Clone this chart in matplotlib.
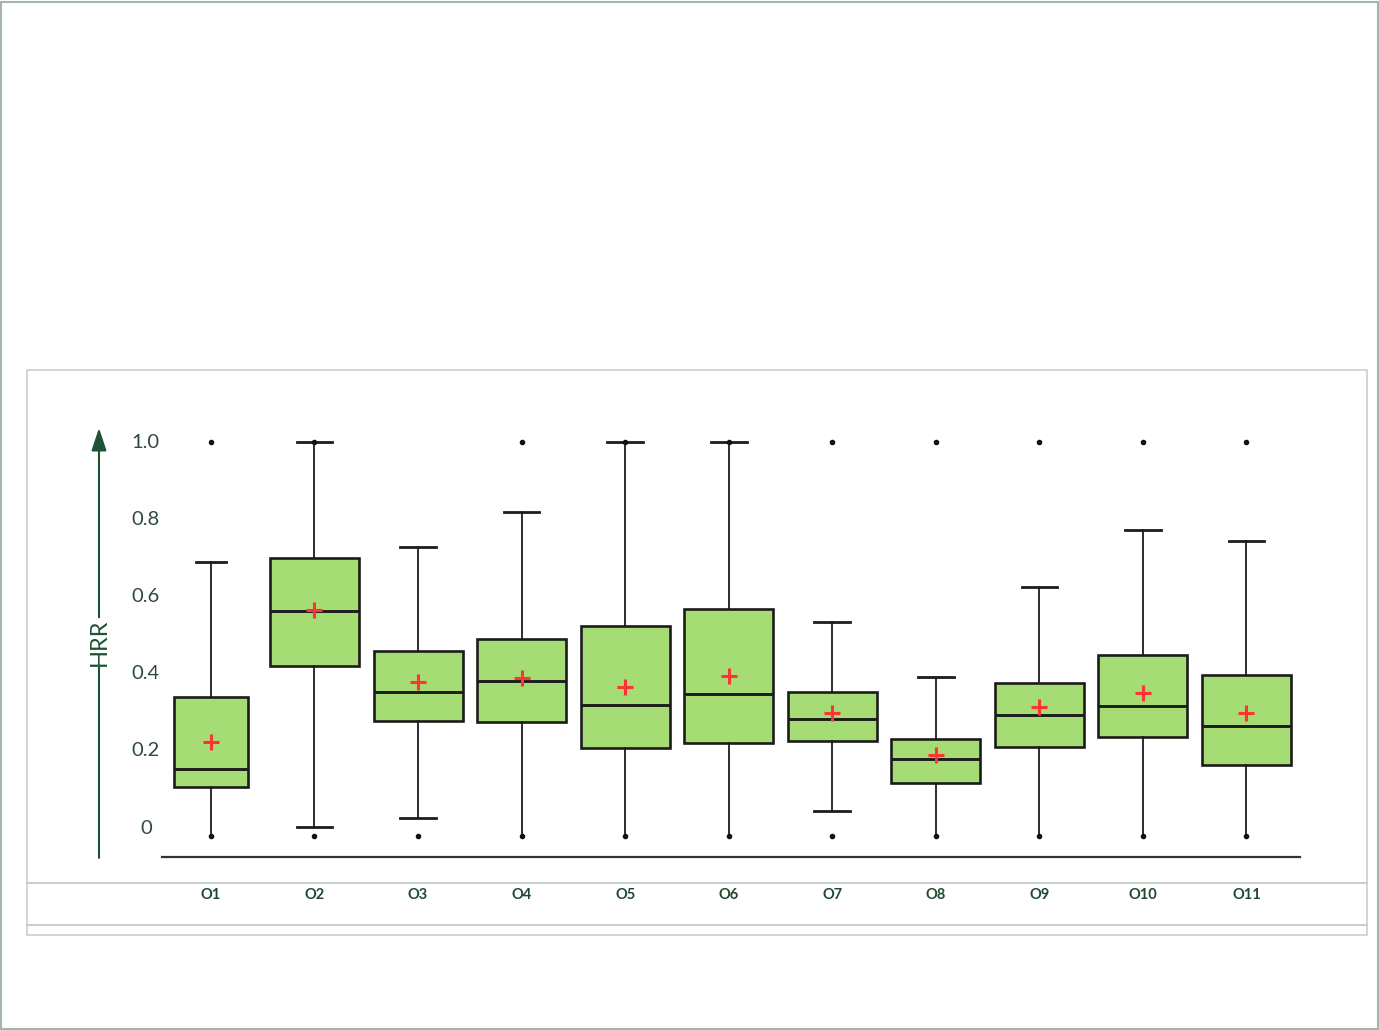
import numpy as np
import matplotlib.pyplot as plt
from matplotlib.patches import Rectangle
from matplotlib.lines import Line2D
import matplotlib.transforms as mtransforms

plt.rcParams['font.family'] = ['Lato', 'DejaVu Sans']

# data
labels = ['O1', 'O2', 'O3', 'O4', 'O5', 'O6', 'O7', 'O8', 'O9', 'O10', 'O11']
whis_hi = [0.697, 1.0, 0.734, 0.822, 1.0, 1.0, 0.544, 0.404, 0.632, 0.776, 0.748]
q3 = [0.353, 0.707, 0.469, 0.501, 0.534, 0.576, 0.366, 0.246, 0.390, 0.459, 0.409]
med = [0.171, 0.572, 0.367, 0.395, 0.334, 0.362, 0.298, 0.196, 0.307, 0.330, 0.280]
q1 = [0.125, 0.431, 0.293, 0.289, 0.224, 0.237, 0.241, 0.135, 0.228, 0.251, 0.180]
whis_lo = [0.0, 0.023, 0.047, 0.0, 0.0, 0.0, 0.065, 0.0, 0.0, 0.0, 0.0]
means = [0.240, 0.574, 0.392, 0.403, 0.378, 0.407, 0.314, 0.207, 0.329, 0.365, 0.313]
fliers = [[0, 1], [0, 1], [0], [0, 1], [0, 1], [0, 1], [0, 1], [0, 1], [0, 1], [0, 1], [0, 1]]
yticks = [0, 0.2, 0.4, 0.6, 0.8, 1.0]
ytick_labels = ['0', '0.2', '0.4', '0.6', '0.8', '1.0']

W, H = 1379, 1030
fig = plt.figure(figsize=(W / 100, H / 100), dpi=100)

def fx(px):
    return px / W

def fy(py):
    return 1 - py / H

# outer border and inner chart frame
fig.add_artist(Rectangle((fx(1), fy(1029)), fx(1377), 1027 / H, fill=False,
                         ec='#a3b5ac', lw=1.5, transform=fig.transFigure))
fig.add_artist(Rectangle((fx(27), fy(935)), fx(1340), 565 / H, fill=False,
                         ec='#c9cfcc', lw=1.2, transform=fig.transFigure))
for yy in [883, 925]:
    fig.add_artist(Line2D([fx(27), fx(1367)], [fy(yy), fy(yy)], color='#c9cfcc',
                          lw=1.5, transform=fig.transFigure))

ax = fig.add_axes([fx(99), fy(857), fx(1300) - fx(99), fy(428) - fy(857)])
ymin, ymax = -0.052, 1.0355
ax.set_xlim(-0.081, 11.517)
ax.set_ylim(ymin, ymax)
for s in ax.spines.values():
    s.set_visible(False)

pos = np.arange(1, len(labels) + 1)
widths = [0.72] + [0.86] * (len(labels) - 1)
stats = []
for i in range(len(labels)):
    stats.append(dict(label=labels[i], med=med[i], q1=q1[i], q3=q3[i],
                      whislo=whis_lo[i], whishi=whis_hi[i], mean=means[i],
                      fliers=fliers[i]))

bp = ax.bxp(stats, positions=pos, widths=widths, patch_artist=True, showmeans=True,
            capwidths=[w * 0.4 for w in widths],
            boxprops=dict(facecolor='#a6dc74', edgecolor='#1c1c1c', linewidth=1.9),
            medianprops=dict(color='#1c1c1c', linewidth=2.1),
            whiskerprops=dict(color='#1c1c1c', linewidth=1.3),
            capprops=dict(color='#1c1c1c', linewidth=2.0),
            meanprops=dict(marker='+', markeredgecolor='#ff3333', markersize=11,
                           markeredgewidth=2.2),
            flierprops=dict(marker='o', markerfacecolor='#111111',
                            markeredgecolor='#111111', markersize=3))

# no lower cap where the whisker runs down to the minimum point
for i in range(len(labels)):
    if whis_lo[i] <= 0:
        bp['caps'][2 * i].set_visible(False)

ax.tick_params(axis='x', length=0, pad=22, labelsize=10.5, labelcolor='#1f4a30')
for t in ax.get_xticklabels():
    t.set_fontweight('bold')
ax.set_yticks([])

# y labels sit inside the plot area, next to the arrow
trans = mtransforms.blended_transform_factory(ax.transAxes, ax.transData)
for v, lab in zip(yticks, ytick_labels):
    ax.text(0.039, v * 0.978 + 0.0215, lab, transform=trans, ha='center', va='center',
            fontsize=14.5, color='#2e4a3b')

# baseline
ax.axhline(ymin, xmin=(162 - 99) / 1201, xmax=1, color='#333333', lw=1.6, clip_on=False)

# axis arrow with HRR label
ax.annotate('', xy=(0, 1), xytext=(0, -0.002), xycoords='axes fraction',
            arrowprops=dict(arrowstyle='-|>,head_length=0.6,head_width=0.2',
                            mutation_scale=23, color='#1d5235', lw=1.5,
                            shrinkA=0, shrinkB=0))
ax.text(0, (857 - 642.5) / 429, 'HRR', transform=ax.transAxes, rotation=90,
        ha='center', va='center', fontsize=17, color='#1d5235',
        bbox=dict(fc='white', ec='none', pad=0.3))

fig.savefig('out.png', dpi=100)
